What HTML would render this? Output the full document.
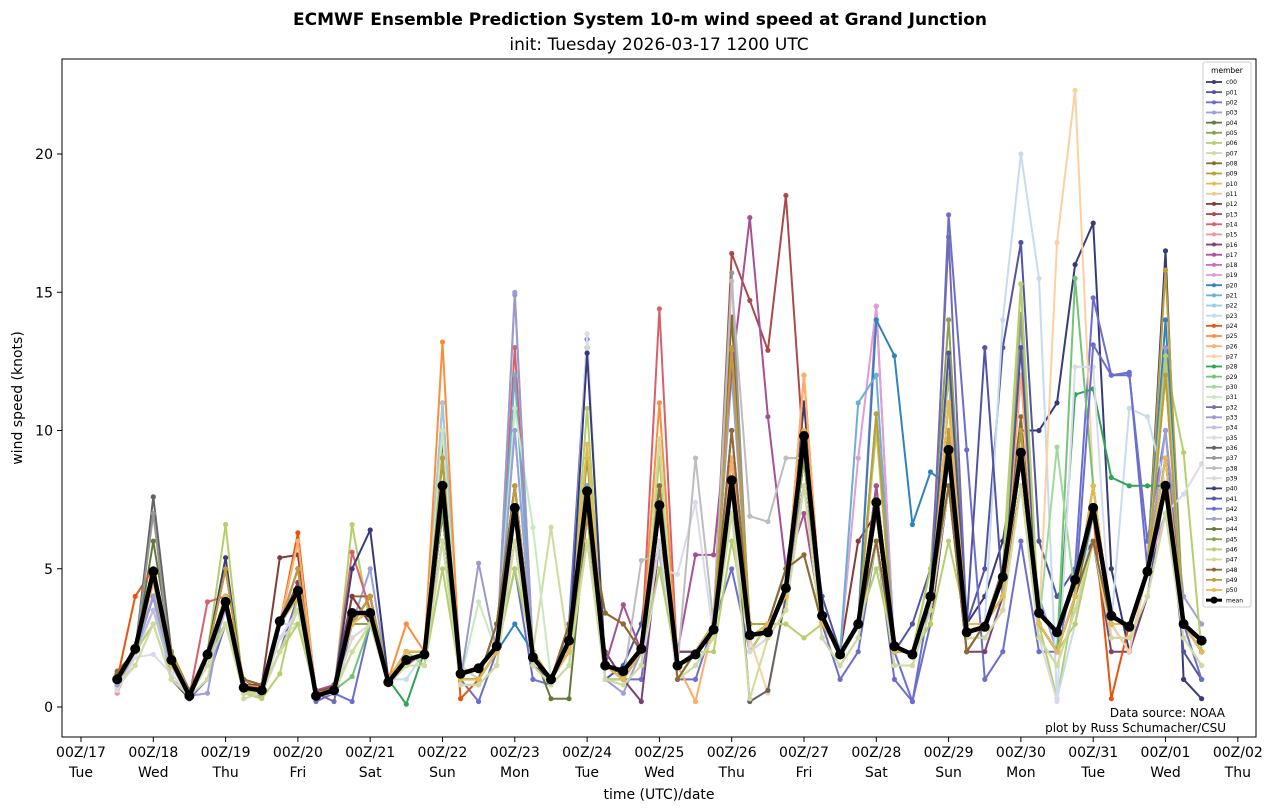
<!DOCTYPE html>
<html><head><meta charset="utf-8"><title>ECMWF ENS wind speed</title>
<style>
html,body{margin:0;padding:0;background:#fff;}
svg{display:block;font-family:"DejaVu Sans","Liberation Sans",sans-serif;}
</style></head>
<body>
<svg id="chart" width="1276" height="812" viewBox="0 0 1276 812" xmlns="http://www.w3.org/2000/svg">
<rect x="0" y="0" width="1276" height="812" fill="#fff"/>
<text x="640" y="25" text-anchor="middle" font-size="17" font-weight="bold">ECMWF Ensemble Prediction System 10-m wind speed at Grand Junction</text>
<text x="659" y="50" text-anchor="middle" font-size="17">init: Tuesday 2026-03-17 1200 UTC</text>
<g id="plot"></g>
<rect x="62" y="59" width="1194" height="678" fill="none" stroke="#000" stroke-width="1"/>
<g id="xticks"></g>
<g id="yticks"></g>
<text x="659" y="799" text-anchor="middle" font-size="14">time (UTC)/date</text>
<text transform="translate(22,398) rotate(-90)" text-anchor="middle" font-size="14">wind speed (knots)</text>
<text x="1225" y="717" text-anchor="end" font-size="12">Data source: NOAA</text>
<text x="1226" y="732" text-anchor="end" font-size="12">plot by Russ Schumacher/CSU</text>
<g id="legend"></g>
</svg>
<script>
const xTickLabels=["00Z/17","00Z/18","00Z/19","00Z/20","00Z/21","00Z/22","00Z/23","00Z/24","00Z/25","00Z/26","00Z/27","00Z/28","00Z/29","00Z/30","00Z/31","00Z/01","00Z/02"];
const xTickDays=["Tue","Wed","Thu","Fri","Sat","Sun","Mon","Tue","Wed","Thu","Fri","Sat","Sun","Mon","Tue","Wed","Thu"];
const yTicks=[0,5,10,15,20];
const stepHours=6, startHour=12;
const meanVals=[1.0,2.1,4.9,1.7,0.4,1.9,3.8,0.7,0.6,3.1,4.2,0.4,0.6,3.4,3.4,0.9,1.7,1.9,8.0,1.2,1.4,2.2,7.2,1.8,1.0,2.4,7.8,1.5,1.3,2.1,7.3,1.5,1.9,2.8,8.2,2.6,2.7,4.3,9.8,3.3,1.9,3.0,7.4,2.2,1.9,4.0,9.3,2.7,2.9,4.7,9.2,3.4,2.7,4.6,7.2,3.3,2.9,4.9,8.0,3.0,2.4];
const c00=[1.0,2,5,2,0.3,2,4,1,0.6,3,4,0.5,0.6,3,4,1,2,2,8,1,1,2,7,2,1,2,8,1.5,1,2,7,1.5,2,3,9,2.5,3,4,11,3,2,3,8,2,2,4,9,3,4,6,10,10,11,16,17.5,5,2,5,16.5,1,0.3];
const p01=[1.2,2,4,1.5,0.5,2,5,0.8,0.7,3,4.5,0.3,0.8,4,3,1,2,2,9,1,1,3,8,2,1,2,7,1,1.5,3,8,2,2,3,10,3,3,5,9,4,2,3,6,2,3,5,12,3,5,13,16.8,6,4,5,6,3,2,4,8,2,1];
const p02=[0.8,2,4,1,0.3,1,3,0.6,0.5,2,4,0.2,0.5,0.2,3,1,1.5,2,7,1,0.2,2,5,1,0.8,3,13.3,1,1,1,6,1,1,3,5,2,3,4,8,3,1,2,6,1,0.2,3,17.8,9.3,1,2,6,2,2,5,14.8,12,12,6,10,3,1];
const p03=[1.0,2,4,2,0.4,2,3,0.5,0.4,3,5,0.5,0.6,3,5,1,2,2,11,1.5,1,2,15,2,1,2,7,1,0.5,2,8,1,2,3,12,3,3,5,8,3,2,3,7,2,2,4,10,2,3,5,9,4,2,4,7,3,3,5,10,4,3];
const p04=[1.2,2,6,2,0.5,2,4,0.8,0.5,3,4,0.5,0.8,3,4,1,1.5,2,9,1,1,2,6,2,1,2,8,2,1,2,7,2,2,3,7,3,3,4,9,3,2,3,8,2,2,4,10,3,3,4,9,3,2,4,8,3,3,5,7,3,2];
const p05=[1.0,2,5,1.5,0.4,2,4,0.5,0.6,3,4,0.5,0.6,3,3,1,2,2,7,1,1,2,6,1.5,1,2,9,1.5,1,2,6,1,2,3,9,2,3,4,8,3,2,3,6,2,2,5,14,3,3,5,10,3,2,4,6,3,3,5,12,3,2];
const p06=[1.1,2,4,1,0.5,2,6.6,0.5,0.3,1.2,4,0.6,0.5,6.6,3,1,1.5,2,8,1,1,2,7,2,1,2,10.8,1,1,2,9,1,2,3,7,2,3,4,8,3,2,3,10,2,2,5,12,3,3,5,15.3,3,0.3,4,7,3,3,5,12.5,9.2,2];
const p07=[0.9,2,4,1,0.4,1,4,0.3,0.5,3,4,0.5,0.6,3,3,1,2,2,7,1.5,1,2,7,2,6.5,2,6,2,1,2,6,1,2,3,7,3,3,4,8,3,2,3,6,2,2,4,8,3,3,4,8,3,2,4,6,3,3,5,7,3,2];
const p08=[1.3,2,5,2,0.6,2,4,1,0.8,3,4,0.5,0.7,4,4,1,2,2,9.7,1,1,3,8,2,1,3,7,3.4,3,2,8,1,2,3,14.1,3,3,5,5.5,3,2,3,6,2,2,4,8,2,3,5,10.5,3,2,4,6,3,3,5,9,3,2];
const p09=[1.0,2,5,2,0.5,2,5,0.7,0.6,3,5,0.4,0.6,3,4,1,2,2,9,1,1,2,8,2,1,2,7,1.5,1,2,7,1.5,2,3,13,3,3,4,12,3,2,3,10.6,2,2,4,10,3,3,4,10,3,2,4,8,3,3,5,15.8,3,2];
const p10=[0.9,2,4.5,1.5,0.4,2,4,0.6,0.6,3,4,0.5,0.6,3,3.5,1,2,2,8,1,1,2,7,2,1,2,9.5,1.5,1,2,7,1.5,2,3,8,2.5,3,4,10,3,2,3,7,2,2,4,11,3,3,4,9,3,2,4,8,3,3,5,9,3,2];
const p11=[1.0,2,4,2,0.6,2,4,1,0.7,3,4,0.5,0.6,3,3,1,2,2,7,1,1,2,7,2,1,2,7,1.5,1,2,7,1.5,2,3,8,2.5,3,4,9,3,2,3,7,2,2,4,9,3,3,4,10,3,2,4,7,3,3,5,8,3,2];
const p12=[1.1,2,5,2,0.4,2,5,0.8,0.8,5.4,5.5,0.6,0.7,4,3,1,2,2,8,1,1,2,7,2,1,2,7,1.5,1,2,7,1.5,2,3,8,2.5,3,4,9,3,2,6,7,2,2,4,9,3,3,4,9,3,2,4,7,3,3,5,8,3,2];
const p13=[1.0,2,5,2,0.5,2,4,0.7,0.6,3,4,0.5,0.6,3,4,1,2,2,8,1,1,2,7,2,1,2,7,1.5,1,2,7,1.5,2,3,16.4,14.7,12.9,18.5,9,3,2,3,7,2,2,4,9,3,3,4,9,3,2,4,7,3,3,5,8,3,2];
const p14=[0.7,2,4,1.5,0.4,3.8,4,0.6,0.6,3,4,0.5,0.6,5.6,3.5,1,2,2,7,1,1,2,13,2,1,2,7,1.5,1,2,14.4,1.5,2,3,8,2.5,3,4,9,3,2,3,7,2,2,4,9,3,3,4,9,3,2,4,7,3,3,5,8,3,2];
const p15=[0.5,2,4,1.5,0.4,2,4,0.6,0.6,3,4,0.5,0.6,3,3,1,2,2,7,1,1,2,7,2,1,2,7,1.5,1,2,6,1.5,2,3,7,2.5,3,4,8,3,2,3,6,2,2,4,8,3,3,4,8,3,2,4,6,3,3,5,7,3,2];
const p16=[1.0,2,4,1,0.3,2,4,0.7,0.5,3,4.5,0.4,0.6,3,4,1,1.5,2,7,1,1,2,6,1.5,1,2,7,2,1,0.2,6,2,2,3,9,3,3,4,8,3,2,3,6,2,2,3,8,2,2,4,8,3,2,4,6,2,2,4,7,3,2];
const p17=[1.0,2,5,2,0.4,2,5,0.7,0.7,3,5,0.6,0.8,3,4,1,1.5,2,6,1,1,2,6,2,1,2,6,1.5,3.7,2,7,2,5.5,5.5,12.1,17.7,10.5,5,7,3,2,3,8,2,2,4,9,3,3,4,9,3,2,4,8,3,3,5,9,3,2];
const p18=[0.8,2,4,1.5,0.5,2,4,0.6,0.5,3,5,0.5,0.6,3,4,1,2,2,8,1,1,2,6,2,1,2,8,1.5,1,2,6,1.5,2,3,10,2.5,3,4,9,3,2,3,14.5,2,2,4,10,3,3,4,9,3,2,4,7,3,3,5,9,3,2];
const p19=[0.9,2,4,1.5,0.4,2,4,0.6,0.6,3,4,0.5,0.6,3,3,1,2,2,6,1,1,2,6,2,1,2,7,1.5,1,2,7,1.5,2,3,7,2.5,3,4,8,3,2,9,14.5,2,2,4,8,3,3,4,12,3,2,4,7,3,3,5,7,3,2];
const p20=[1.0,2,4,1.5,0.4,2,4,0.6,0.6,3,4,0.5,0.6,3,3,1,2,2,8,1,1,2,3,2,1,2,8,1.5,1,2,8,1.5,2,3,9,2.5,3,4,9,3,2,3,14,12.7,6.6,8.5,8,3,3,4,8,3,2,4,7,3,3,5,14,3,2];
const p21=[0.8,2,4,1,0.5,2,4,0.6,0.5,3,4,0.5,0.6,3,3,1,2,2,9,1,1,2,12,2,1,2,8,1.5,1,2,7,1.5,2,3,9,2.5,3,4,10,3,2,11,12,2,2,4,9,3,3,4,10,3,2,4,7,3,3,5,8,3,2];
const p22=[0.7,2,4,1.5,0.4,2,4,0.6,0.6,3,4,0.5,0.6,3,3,1,2,2,11,1,1,2,7,2,1,2,7,1.5,1,2,7,1.5,2,3,7,2.5,3,4,9,3,2,3,7,2,2,4,9,3,3,4,9,3,2,4,7,3,3,5,8,3,2];
const p23=[0.6,1.8,3.5,1.5,0.4,2,3,0.6,0.6,3,3,0.5,0.6,3,3,1,1,2,7,1,1,2,7,2,1,2,7,1.5,1,2,7,1.5,2,3,8,2.5,3,4,9,3,2,3,7,2,2,4,9,3,3,14,20,15.5,0.3,3,7,3,10.8,10.5,8,3,2];
const p24=[1.0,4,5,2,0.5,2,5,0.8,0.7,3,6.3,0.5,0.6,3,4,1,2,2,9,0.3,1,2,7,2,1,2,7,1.5,1,2,7,1.5,2,3,9,2.5,3,4,10,3,2,3,7,2,2,4,9,3,3,4,8,3,2,4,7,0.3,3,5,8,3,2];
const p25=[1.2,2,5,2,0.5,2,5,0.8,0.7,3,6,0.5,0.6,3,4,1,3,2,13.2,1,1,2,8,2,1,2,7,1.5,1,2,11,1.5,2,3,9,2.5,3,4,12,3,2,3,7,2,2,4,9,3,3,4,9,3,2,4,7,3,3,5,8,3,2];
const p26=[1.0,2,5,2,0.5,2,4,0.6,0.6,3,6,0.5,0.6,3,4,1,2,2,10,1,1,2,7,2,1,2,7,1.5,1,2,7,1.5,0.2,3,9,2.5,3,4,12,3,2,3,7,2,2,4,9,3,3,4,12,3,2,4,7,3,3,5,8,3,2];
const p27=[0.8,2,4,1.5,0.4,2,4,0.6,0.6,3,4,0.5,0.6,3,3,1,2,2,7,1,1,2,7,2,1,2,7,1.5,1,2,7,1.5,2,3,8,2.5,0.5,4,9,3,2,3,7,2,2,4,9,3,3,4,9,3,16.8,22.3,8,3,2,5,8,3,2];
const p28=[0.9,2,4,1.5,0.4,2,4,0.6,0.6,3,4,0.5,0.6,3,3,1,0.1,2,7,1,1,2,7,2,1,2,7,1.5,1,2,7,1.5,2,3,8,2.5,3,4,9,3,2,3,7,2,2,4,9,3,3,4,9,3,2,11.3,11.5,8.3,8,8,8,3,2];
const p29=[1.0,2,4,1.5,0.4,2,4,0.6,0.6,3,4,0.5,0.6,1.1,3,1,2,2,7,1,1,2,7,2,1,2,13,1.5,1,2,7,1.5,2,3,8,2.5,3,4,9,3,2,3,7,2,2,4,9,3,3,4,14,3,2,15.5,8,3,3,5,13,3,2];
const p30=[0.9,2,4,1,0.4,2,4,0.6,0.6,3,4,0.5,0.6,3,3,1,2,2,7,1,1,2,10,2,1,2,7,1.5,1,2,7,1.5,2,3,8,2.5,3,4,9,3,2,3,7,2,2,4,9,3,3,4,9,3,9.4,4,7,3,3,5,8,3,2];
const p31=[0.8,2,4,1.5,0.4,2,4,0.6,0.6,3,4,0.5,0.6,3,3,1,2,2,10,1,3.8,2,10.8,6.5,1,2,7,1.5,1,2,7,1.5,2,3,8,2.5,3,4,9,3,2,3,7,2,2,4,9,3,3,4,9,3,2,4,7,3,3,5,8,3,2];
const p32=[1.0,2,4,1.5,0.4,2,4,0.6,0.6,3,4,0.5,0.2,3,3,1,2,2,7,1,1,2,7,2,1,2,7,1.5,1,2,7,1.5,2,3,8,2.5,3,4,9,3,2,3,7,2,2,4,17,3,3,4,9,3,2,4,7,3,3,5,8,3,2];
const p33=[0.9,2,4,1.5,0.4,2,4,0.6,0.6,3,4,0.5,0.6,3,3,1,2,2,7,1,5.2,2,14.9,2,1,2,7,1.5,1,2,7,1.5,2,3,8,2.5,3,4,9,3,2,3,7,2,2,4,9,3,3,4,9,3,2,4,7,3,3,5,13,3,2];
const p34=[0.7,2,3.5,1.2,0.4,1.5,3.5,0.5,0.5,2.5,3.5,0.4,0.5,2.5,3,0.8,1.5,1.5,6,0.8,0.8,1.5,6,1.5,0.8,1.5,6,1,0.8,1.5,6,1,1.5,2.5,7,2,2.5,3.5,8,2.5,1.5,2.5,6,1.5,1.5,3.5,8,2.5,2.5,3.5,8,2.5,1.5,3.5,6,2.5,2.5,4,7,2.5,1.5];
const p35=[0.6,1.8,1.9,1.2,0.4,1.5,3,0.5,0.5,2.5,3.5,0.4,0.5,2.5,3,0.8,1.5,1.5,6,0.8,0.8,1.5,6,1.5,0.8,1.5,13.5,1,0.8,1.5,5,4.8,7.4,2.5,7,2,2.5,3.5,8,2.5,1.5,2.5,6,1.5,1.5,3.5,8,2.5,2.5,3.5,8,2.5,0.2,12.3,12.3,2.5,2.5,4,7,7.7,8.8];
const p36=[1.0,2,7.6,2,0.5,2,4,0.6,0.6,3,4,0.5,0.6,3,3,1,2,2,7,1,1,2,7,2,1,2,7,1.5,1,2,7,1.5,2,3,8,0.2,0.6,4,9,3,2,3,7,2,2,4,9,3,3,4,9,3,2,4,7,3,3,5,8,3,2];
const p37=[0.9,2,7,1.5,0.4,2,4,0.6,0.6,3,4,0.5,0.6,3,3,1,2,2,7,1,1,2,7,2,1,2,7,1.5,1,2,7,1.5,2,3,15.7,2.5,3,4,9,3,2,3,7,2,2,4,9,3,3,4,14.2,3,2,4,7,3,3,5,8,3,2];
const p38=[0.8,2,4,1.5,0.4,2,4,0.6,0.6,3,4,0.5,0.6,3,3,1,2,2,7,1,1,2,7,2,1,2,7,1.5,1,5.3,5.5,1.5,9,3,15.4,6.9,6.7,9,9,3,2,3,7,2,2,4,9,3,3,4,9,3,2,4,7,3,3,5,8,3,2];
const p39=[0.7,1.5,3,1,0.4,1.5,3,0.5,0.5,2.5,3,0.4,0.5,2.5,3,0.8,1.5,1.5,6,0.8,0.8,1.5,6,1.5,0.8,1.5,6,1,0.8,1.5,6,1,1.5,2.5,7,2,2.5,3.5,8,2.5,1.5,2.5,6,1.5,1.5,3.5,8,2.5,2.5,3.5,8,2.5,1.5,3.5,6,2.5,2.5,4,7,2.5,1.5];
const p40=[1.0,2,4,1.5,0.4,2,5.4,0.6,0.6,3,4,0.5,0.6,5,6.4,1,2,2,7,1,1,2,7,2,1,2,12.8,1.5,1,2,7,1.5,2,3,8,2.5,3,4,9,3,2,3,7,2,2,4,9,3,3,4,9,3,2,4,7,3,3,5,8,3,2];
const p41=[1.0,2,4,1.5,0.4,2,4,0.6,0.6,3,4,0.5,0.6,3,3,1,2,2,7,1,1,2,7,2,1,2,7,1.5,1,2,7,1.5,2,3,8,2.5,3,4,9,3,2,3,7,2,2,4,12.8,3,13,4,13,3,2,4,7,3,3,5,8,3,2];
const p42=[0.9,2,4,1.5,0.4,2,4,0.6,0.6,3,4,0.5,0.6,3,3,1,2,2,7,1,1,2,7,2,1,2,7,1.5,1,2,7,1.5,2,3,8,2.5,3,4,9,3,2,3,7,2,0.2,4,9,3,3,4,9,3,2,4,13.1,12,12.1,5,8,3,2];
const p43=[0.8,2,4,1.5,0.4,0.5,4,0.6,0.6,3,4,0.5,0.6,3,3,1,2,2,7,1,1,2,10,2,1,2,7,1.5,1,2,7,1.5,2,3,8,2.5,3,4,9,3,2,3,7,2,2,4,9,3,3,4,9,3,2,4,7,3,3,5,8,3,2];
const p44=[1.2,2,5,2,0.5,2,4,0.6,0.6,3,4,0.5,0.6,3,3,1,2,2,7,1,1,2,7,2,0.3,0.3,7,1.5,1,2,7,1.5,2,3,8,2.5,3,4,9,3,2,3,7,2,2,4,9,3,3,4,9,3,2,4,7,3,3,5,8,3,2];
const p45=[1.0,2,5,2,0.5,2,4,0.6,0.6,3,4,0.5,0.6,3,3,1,2,2,7,1,1,2,7,2,1,2,7,1.5,1,2,7,1.5,2,3,8,2.5,3,4,9,3,2,3,7,2,2,4,9,3,3,4,10,3,2,4,8,3,3,5,8,3,2];
const p46=[0.9,2,3,1,0.4,2,3,0.5,0.6,2,3,0.5,0.6,2,3,1,2,1.5,5,1,1,2,5,2,1,2,6,1.5,1,2,5,1.5,2,2,6,2.5,3,3,2.5,3,2,3,5,2,2,3,6,3,3,4,15.3,3,2,3,6,3,3,5,12.7,3,2];
const p47=[0.9,1.5,3,1,0.4,1.5,3,0.5,0.5,2,3.5,0.4,0.5,2,3,0.8,1.5,1.5,6,0.8,0.8,1.5,6,1.5,0.8,1.5,6,1,0.8,1.5,9.7,1,1.5,2.5,7,0.3,2.5,3.5,8,2.5,1.5,2.5,6,1.5,1.5,3.5,8,2.5,2.5,3.5,8,2.5,1.5,3.5,6,2.5,2.5,4,7,2.5,1.5];
const p48=[1.2,2,5,2,0.6,2,4,1,0.8,3,4,0.5,0.7,3,4,1,2,2,9,1,1,3,8,2,1,3,7,3.4,3,2,8,1,2,3,10,3,3,5,5.5,3,2,3,6,2,2,4,8,2,3,5,9,3,2,4,6,3,3,5,9,3,2];
const p49=[1.0,2,5,2,0.5,2,5,0.7,0.6,3,5,0.4,0.6,3,4,1,2,2,9,1,1,2,8,2,1,2,7,1.5,1,2,7,1.5,2,3,12.9,3,3,4,10,3,2,3,10.6,2,2,4,10,3,3,4,10,3,2,4,8,3,3,5,12,3,2];
const p50=[0.9,2,4.5,1.5,0.4,2,4,0.6,0.6,3,4,0.5,0.6,3,3.5,1,2,2,8,1,1,2,7,2,1,2,9.5,1.5,1,2,7,1.5,2,3,8,2.5,3,4,10,3,2,3,7,2,2,4,11,3,3,4,9,3,2,4,8,3,3,5,9,3,2];
const memberNames=["c00","p01","p02","p03","p04","p05","p06","p07","p08","p09","p10","p11","p12","p13","p14","p15","p16","p17","p18","p19","p20","p21","p22","p23","p24","p25","p26","p27","p28","p29","p30","p31","p32","p33","p34","p35","p36","p37","p38","p39","p40","p41","p42","p43","p44","p45","p46","p47","p48","p49","p50"];
const memberSeries=[c00,p01,p02,p03,p04,p05,p06,p07,p08,p09,p10,p11,p12,p13,p14,p15,p16,p17,p18,p19,p20,p21,p22,p23,p24,p25,p26,p27,p28,p29,p30,p31,p32,p33,p34,p35,p36,p37,p38,p39,p40,p41,p42,p43,p44,p45,p46,p47,p48,p49,p50];
const memberColors=["#393b79","#5254a3","#6b6ecf","#9c9ede","#637939","#8ca252","#b5cf6b","#cedb9c","#8c6d31","#bd9e39","#e7ba52","#e7cb94","#843c39","#ad494a","#d6616b","#e7969c","#7b4173","#a55194","#ce6dbd","#de9ed6","#3182bd","#6baed6","#9ecae1","#c6dbef","#e6550d","#fd8d3c","#fdae6b","#fdd0a2","#31a354","#74c476","#a1d99b","#c7e9c0","#756bb1","#9e9ac8","#bcbddc","#dadaeb","#636363","#969696","#bdbdbd","#d9d9d9","#393b79","#5254a3","#6b6ecf","#9c9ede","#637939","#8ca252","#b5cf6b","#cedb9c","#8c6d31","#bd9e39","#e7ba52"];

const NS="http://www.w3.org/2000/svg";
const X0=81, DAYPX=72.3, Y0=707, KPX=27.65;
function xScale(hours){return X0+hours/24*DAYPX;}
function yScale(v){return Y0-v*KPX;}
function mk(tag,attrs,parent){const e=document.createElementNS(NS,tag);for(const k in attrs)e.setAttribute(k,attrs[k]);parent.appendChild(e);return e;}
const plot=document.getElementById('plot');
function drawSeries(vals,color,lw,r,name){
  const g=mk('g',{},plot);
  
  
  const pts=vals.map((v,i)=>xScale(startHour+i*stepHours).toFixed(1)+','+yScale(v).toFixed(1)).join(' ');
  const pl=mk('polyline',{points:pts,fill:'none',stroke:color,'stroke-width':lw,'stroke-linejoin':'round'},g);
  
  
  vals.forEach((v,i)=>{
    const c=mk('circle',{cx:xScale(startHour+i*stepHours).toFixed(1),cy:yScale(v).toFixed(1),r:r,fill:color},g);
    
    
  });
}
memberSeries.forEach((s,k)=>drawSeries(s,memberColors[k],2,2.6,memberNames[k]));
drawSeries(meanVals,'#000',4.5,5,'mean');

const xt=document.getElementById('xticks');
xTickLabels.forEach((lab,i)=>{
  const x=xScale(i*24);
  const t=mk('line',{x1:x,x2:x,y1:737,y2:742,stroke:'#000'},xt);
  
  
  const tx=mk('text',{x:x,y:757,'text-anchor':'middle','font-size':14},xt);
  tx.textContent=lab;
  
  
  const td=mk('text',{x:x,y:777,'text-anchor':'middle','font-size':14},xt);
  td.textContent=xTickDays[i];
  
  
});
const yt=document.getElementById('yticks');
yTicks.forEach(v=>{
  const y=yScale(v);
  const t=mk('line',{x1:57,x2:62,y1:y,y2:y,stroke:'#000'},yt);
  
  
  const tx=mk('text',{x:53,y:y+5,'text-anchor':'end','font-size':14},yt);
  tx.textContent=String(v);
  
  
});

const lg=document.getElementById('legend');
const box=mk('rect',{x:1203,y:62,width:48,height:545,rx:2,fill:'#fff','fill-opacity':0.85,stroke:'#ccc'},lg);


const lt=mk('text',{x:1227,y:73,'text-anchor':'middle','font-size':7.5},lg);
lt.textContent='member';


const names=memberNames.concat(['mean']);
names.forEach((n,k)=>{
  const y=82+k*10.16;
  const isMean=n==='mean';
  const col=isMean?'#000':memberColors[k];
  const g=mk('g',{},lg);
  
  
  mk('line',{x1:1206,x2:1222,y1:y,y2:y,stroke:col,'stroke-width':isMean?3:1.8},g);
  mk('circle',{cx:1214,cy:y,r:isMean?3.5:2,fill:col},g);
  const t=mk('text',{x:1226,y:y+2.2,'font-size':6},g);
  t.textContent=n;
});
</script>
</body></html>
